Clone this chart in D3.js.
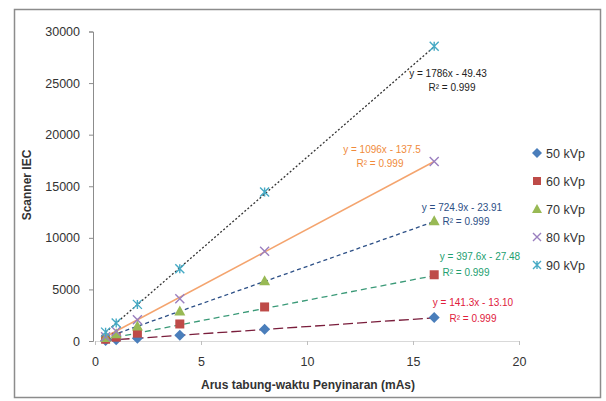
<!DOCTYPE html>
<html lang="en">
<head>
<meta charset="utf-8">
<title>Scanner IEC vs mAs</title>
<script src="https://d3js.org/d3.v7.min.js"></script>
<style>
  body { margin: 0; background: #fff; }
  text { font-family: "Liberation Sans", Arial, sans-serif; }
</style>
</head>
<body>
<script>
var w = 606, h = 401;

// data
var mAs = [0.5, 1, 2, 4, 8, 16];
var seriesNames = ["50 kVp", "60 kVp", "70 kVp", "80 kVp", "90 kVp"];
var kv50 = [60, 125, 270, 550, 1150, 2280];
var kv60 = [170, 370, 760, 1650, 3300, 6420];
var kv70 = [330, 700, 1450, 2900, 5850, 11650];
var kv80 = [420, 950, 2050, 4100, 8700, 17400];
var kv90 = [860, 1750, 3550, 7000, 14450, 28580];
var slopes = [141.3, 397.6, 724.9, 1096, 1786];
var intercepts = [-13.10, -27.48, -23.91, -137.5, -49.43];
var eqLabels = ["y = 141.3x - 13.10", "y = 397.6x - 27.48", "y = 724.9x - 23.91", "y = 1096x - 137.5", "y = 1786x - 49.43"];
var r2Labels = ["R\u00b2 = 0.999", "R\u00b2 = 0.999", "R\u00b2 = 0.999", "R\u00b2 = 0.999", "R\u00b2 = 0.999"];
var xTicks = [0, 5, 10, 15, 20];
var yTicks = [0, 5000, 10000, 15000, 20000, 25000, 30000];

var values = [kv50, kv60, kv70, kv80, kv90];

// styling
var markerColors = ["#4a7ebb", "#be4b48", "#98b954", "#9a7fbf", "#46aac5"];
var trendColors = ["#7a1e3c", "#3b9a78", "#2c4f86", "#f4a46e", "#333333"];
var trendDash = ["10,4", "6,4", "4,3", null, "2,2"];
var labelColors = ["#e0203c", "#22a070", "#2c4f86", "#f08a3a", "#222222"];
// label anchors (pixel offsets)
var eqPos = [[473, 306], [480, 260], [462, 211], [382, 153], [448, 77]];
var r2Pos = [[473, 322], [466, 276], [466, 225], [380, 167], [452, 91]];

var svg = d3.select("body").append("svg").attr("width", w).attr("height", h);

svg.append("rect")
  .attr("x", 14.5).attr("y", 9.5).attr("width", 586).attr("height", 388)
  .attr("fill", "#fff").attr("stroke", "#8c8c8c").attr("stroke-width", 1.5);

var x = d3.scaleLinear().domain([0, 20]).range([95, 519]);
var y = d3.scaleLinear().domain([0, 30000]).range([341, 31.5]);

// y axis
var yAxis = svg.append("g").attr("transform", "translate(93,0)")
  .call(d3.axisLeft(y).tickValues(yTicks).tickSize(4).tickPadding(9).tickFormat(d3.format("d")));
yAxis.select(".domain").attr("stroke", "#8c8c8c");
yAxis.selectAll(".tick line").attr("stroke", "#8c8c8c");
yAxis.selectAll("text").attr("font-size", 12.5).attr("fill", "#333");

// x axis
var xAxis = svg.append("g").attr("transform", "translate(0,341)")
  .call(d3.axisBottom(x).tickValues(xTicks).tickSize(4).tickPadding(12));
xAxis.select(".domain").attr("stroke", "#d9d9d9");
xAxis.selectAll(".tick line").attr("stroke", "#bfbfbf");
xAxis.selectAll("text").attr("font-size", 12.5).attr("fill", "#333");

// axis titles
svg.append("text")
  .attr("x", 308).attr("y", 389).attr("text-anchor", "middle")
  .attr("font-size", 12).attr("font-weight", "bold").attr("fill", "#333")
  .text("Arus tabung-waktu Penyinaran (mAs)");
svg.append("text")
  .attr("transform", "translate(31,185) rotate(-90)").attr("text-anchor", "middle")
  .attr("font-size", 12).attr("font-weight", "bold").attr("fill", "#333")
  .text("Scanner IEC");

// trendlines
var line = d3.line().x(function(d) { return x(d[0]); }).y(function(d) { return y(d[1]); });
for (var i = 0; i < values.length; i++) {
  var x0 = d3.min(mAs), x1 = d3.max(mAs);
  svg.append("path")
    .attr("d", line([[x0, slopes[i] * x0 + intercepts[i]], [x1, slopes[i] * x1 + intercepts[i]]]))
    .attr("fill", "none")
    .attr("stroke", trendColors[i])
    .attr("stroke-width", i == 3 ? 1.5 : 1.3)
    .attr("stroke-dasharray", trendDash[i]);
}

// markers
function marker(g, i, size) {
  var c = markerColors[i];
  var s = size / 2;
  if (i == 0) {
    g.append("path").attr("d", "M0," + (-s - 1) + "L" + (s + 1) + ",0L0," + (s + 1) + "L" + (-s - 1) + ",0Z").attr("fill", c);
  } else if (i == 1) {
    g.append("rect").attr("x", -s).attr("y", -s).attr("width", size).attr("height", size).attr("fill", c);
  } else if (i == 2) {
    g.append("path").attr("d", "M0," + (-s - 1) + "L" + (s + 1) + "," + s + "L" + (-s - 1) + "," + s + "Z").attr("fill", c);
  } else if (i == 3) {
    g.append("path").attr("d", "M" + (-s) + "," + (-s) + "L" + s + "," + s + "M" + (-s) + "," + s + "L" + s + "," + (-s))
      .attr("stroke", c).attr("stroke-width", 1.4).attr("fill", "none");
  } else {
    g.append("path").attr("d", "M" + (-s) + "," + (-s) + "L" + s + "," + s + "M" + (-s) + "," + s + "L" + s + "," + (-s) + "M0," + (-s) + "L0," + s)
      .attr("stroke", c).attr("stroke-width", 1.4).attr("fill", "none");
  }
}

for (var i = 0; i < values.length; i++) {
  svg.append("g").selectAll("g")
    .data(values[i])
    .enter()
    .append("g")
    .attr("transform", function(d, j) { return "translate(" + x(mAs[j]) + "," + y(d) + ")"; })
    .each(function() { marker(d3.select(this), i, 9); });
}

// trendline labels
for (var i = 0; i < values.length; i++) {
  svg.append("text").attr("x", eqPos[i][0]).attr("y", eqPos[i][1])
    .attr("text-anchor", "middle").attr("font-size", 10).attr("fill", labelColors[i])
    .text(eqLabels[i]);
  svg.append("text").attr("x", r2Pos[i][0]).attr("y", r2Pos[i][1])
    .attr("text-anchor", "middle").attr("font-size", 10).attr("fill", labelColors[i])
    .text(r2Labels[i]);
}

// legend
var legend = svg.append("g").selectAll("g")
  .data(seriesNames)
  .enter()
  .append("g")
  .attr("transform", function(d, i) { return "translate(537," + (153 + i * 28) + ")"; });
legend.each(function(d, i) { marker(d3.select(this), i, 8); });
legend.append("text")
  .attr("x", 9).attr("y", 4.5)
  .attr("font-size", 12.5).attr("fill", "#333")
  .text(function(d) { return d; });
</script>
</body>
</html>
